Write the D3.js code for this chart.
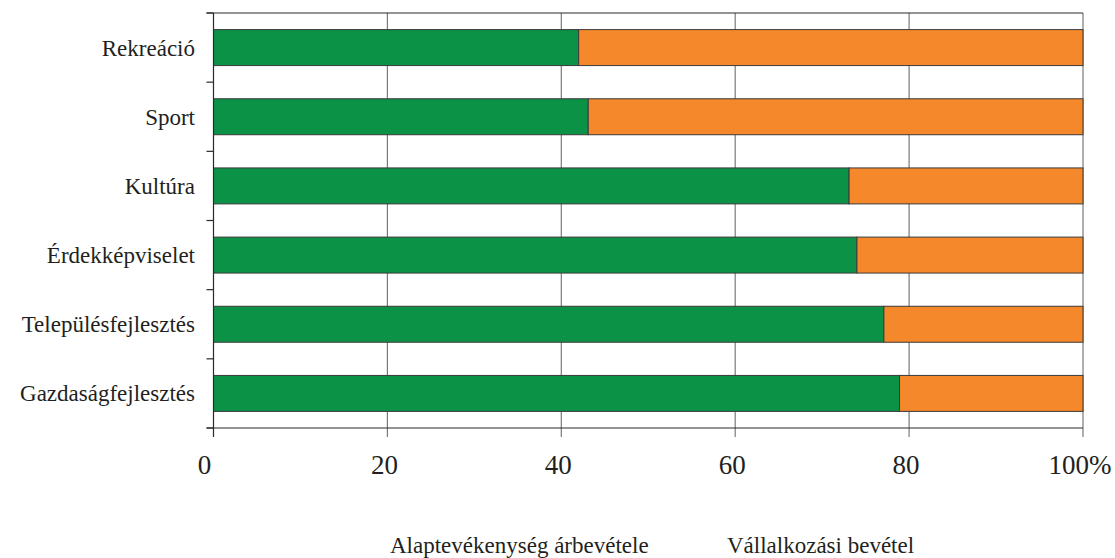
<!DOCTYPE html>
<html>
<head>
<meta charset="utf-8">
<script src="https://cdn.jsdelivr.net/npm/d3@7/dist/d3.min.js"></script>
<style>
  html, body { margin: 0; padding: 0; background: #fff; }
  svg { display: block; }
</style>
</head>
<body>
<svg id="chart" width="1115" height="558"></svg>
<script>
const categories = ["Rekreáció", "Sport", "Kultúra", "Érdekképviselet", "Településfejlesztés", "Gazdaságfejlesztés"];
const alaptevekenyseg = [42.0, 43.1, 73.1, 74.0, 77.1, 78.9];
const vallalkozasi = [58.0, 56.9, 26.9, 26.0, 22.9, 21.1];
const seriesNames = ["Alaptevékenység árbevétele", "Vállalkozási bevétel"];
const seriesColors = ["#0b9247", "#f4882b"];
const tickValues = [0, 20, 40, 60, 80, 100];
const tickLabels = ["0", "20", "40", "60", "80", "100%"];

(function () {
const FONT = "'Liberation Serif', Tinos, 'Noto Serif', 'DejaVu Serif', FreeSerif, 'Times New Roman', Times, Georgia, serif";
const svg = d3.select("#chart");
const mLeft = 213.5, mRight = 1083, mTop = 13, mBottom = 428;

const x = d3.scaleLinear().domain([0, 100]).range([mLeft, mRight]);
const y = d3.scaleBand().domain(categories).range([mTop, mBottom]).paddingInner(0.48).paddingOuter(0.24);

const rows = categories.map((c, i) => ({ cat: c, a: alaptevekenyseg[i], v: vallalkozasi[i] }));
const stacked = d3.stack().keys(["a", "v"])(rows);

svg.append("g").selectAll("line").data(tickValues.slice(1)).join("line")
  .attr("x1", d => x(d)).attr("x2", d => x(d))
  .attr("y1", mTop).attr("y2", mBottom + 9)
  .attr("stroke", "#7a7a7a").attr("stroke-width", 1.2);

svg.append("g").selectAll("g").data(stacked).join("g")
  .attr("fill", (d, i) => seriesColors[i])
  .selectAll("rect").data(d => d).join("rect")
  .attr("x", d => x(d[0]))
  .attr("width", d => x(d[1]) - x(d[0]))
  .attr("y", d => y(d.data.cat))
  .attr("height", y.bandwidth())
  .attr("stroke", "#3a3a3a").attr("stroke-width", 1);

svg.append("line").attr("x1", mLeft - 7).attr("x2", mRight).attr("y1", mTop).attr("y2", mTop)
  .attr("stroke", "#2a2a2a").attr("stroke-width", 1.2);

const yTicks = d3.range(categories.length + 1).map(i => mTop + i * y.step());
svg.append("line").attr("x1", mLeft).attr("x2", mLeft).attr("y1", mTop).attr("y2", mBottom + 9)
  .attr("stroke", "#2a2a2a").attr("stroke-width", 1.2);
svg.append("g").selectAll("line").data(yTicks).join("line")
  .attr("x1", mLeft - 7).attr("x2", mLeft).attr("y1", d => d).attr("y2", d => d)
  .attr("stroke", "#2a2a2a").attr("stroke-width", 1.2);

svg.append("line").attr("x1", mLeft - 7).attr("x2", mRight).attr("y1", mBottom).attr("y2", mBottom)
  .attr("stroke", "#2a2a2a").attr("stroke-width", 1.2);

svg.append("g").selectAll("text").data(categories).join("text")
  .attr("x", 195)
  .attr("y", d => y(d) + y.bandwidth() / 2 + 8)
  .attr("text-anchor", "end")
  .attr("font-family", FONT).attr("fill", "#231f20")
  .attr("font-size", 23)
  .text(d => d);

svg.append("g").selectAll("text").data(tickValues).join("text")
  .attr("x", (d, i) => x(d) - (i === 0 ? 9 : 3))
  .attr("y", 474)
  .attr("text-anchor", "middle")
  .attr("font-family", FONT).attr("fill", "#231f20")
  .attr("font-size", 27)
  .text((d, i) => tickLabels[i]);

const legendX = [390, 727];
svg.append("g").selectAll("text").data(seriesNames).join("text")
  .attr("x", (d, i) => legendX[i])
  .attr("y", 553)
  .attr("font-family", FONT).attr("fill", "#231f20")
  .attr("font-size", 23)
  .text(d => d);
})();
</script>
</body>
</html>
